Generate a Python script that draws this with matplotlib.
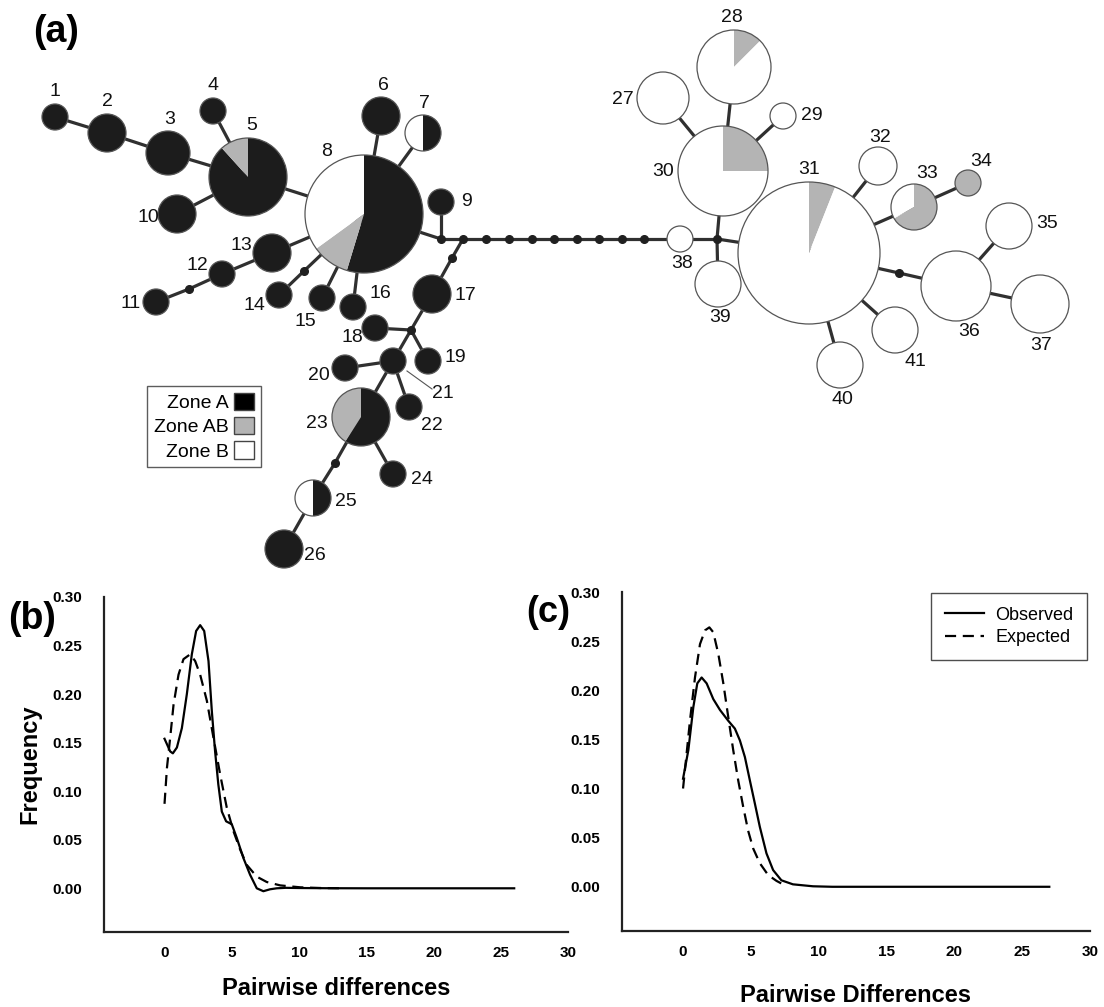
import matplotlib
matplotlib.use('Agg')
import matplotlib.pyplot as plt
from matplotlib.patches import Wedge, Patch

plt.rcParams['font.family'] = ['Liberation Sans', 'DejaVu Sans']

# --- (a) haplotype network -------------------------------------------------
# node layout (figure pixels, y downwards) and circle size per haplotype
hap_x = [55, 107, 168, 213, 248, 381, 423, 364, 441, 177,
         156, 222, 272, 279, 322, 353, 432, 375, 428, 345,
         393, 409, 361, 393, 313, 284, 663, 734, 783, 723,
         809, 878, 914, 968, 1009, 956, 1040, 680, 718, 840, 895]
hap_y = [117, 133, 153, 111, 177, 116, 133, 214, 202, 214,
         302, 274, 253, 295, 298, 307, 294, 328, 361, 368,
         361, 407, 417, 474, 498, 549, 98, 67, 116, 171,
         253, 166, 207, 183, 226, 286, 304, 239, 284, 365, 330]
hap_r = [13, 19, 22, 13, 39, 19, 18, 59, 13, 19,
         13, 13, 19, 13, 13, 13, 19, 13, 13, 13,
         13, 13, 29, 13, 18, 19, 26, 37, 13, 45,
         71, 19, 23, 13, 23, 35, 29, 13, 23, 23, 23]

# share of each haplotype found in zone A / AB / B
zone_a = [1, 1, 1, 1, 0.883, 1, 0.5, 0.547, 1, 1,
          1, 1, 1, 1, 1, 1, 1, 1, 1, 1,
          1, 1, 0.59, 1, 0.5, 1, 0, 0, 0, 0,
          0, 0, 0, 0, 0, 0, 0, 0, 0, 0, 0]
zone_ab = [0, 0, 0, 0, 0.117, 0, 0, 0.103, 0, 0,
           0, 0, 0, 0, 0, 0, 0, 0, 0, 0,
           0, 0, 0.41, 0, 0, 0, 0, 0.125, 0, 0.25,
           0.06, 0, 0.667, 1, 0, 0, 0, 0, 0, 0, 0]
zone_b = [0, 0, 0, 0, 0, 0, 0.5, 0.35, 0, 0,
          0, 0, 0, 0, 0, 0, 0, 0, 0, 0,
          0, 0, 0, 0, 0.5, 0, 1, 0.875, 1, 0.75,
          0.94, 1, 0.333, 0, 1, 1, 1, 1, 1, 1, 1]

lab_x = [55, 107, 170, 213, 252, 383, 424, 327, 466, 148,
         131, 197, 241, 254, 305, 380, 465, 352, 455, 319,
         443, 432, 317, 422, 346, 315, 623, 732, 812, 663,
         809, 880, 927, 981, 1047, 969, 1041, 682, 720, 842, 915]
lab_y = [91, 102, 119, 86, 126, 86, 104, 152, 201, 217,
         303, 266, 245, 305, 321, 294, 295, 338, 357, 376,
         393, 426, 423, 480, 501, 555, 99, 17, 116, 172,
         170, 137, 173, 161, 224, 332, 345, 263, 318, 399, 361]

# median vectors / unsampled intermediate states
mv = {'a': (189, 289), 'b': (304, 271), 'c': (441, 239), 'd': (463, 239),
      'e': (452, 258), 'f': (411, 330), 'g': (335, 463), 'h': (717, 239),
      'i': (899, 273)}
chain_x = [486, 509, 532, 554, 577, 599, 622, 644]
for k, cx in enumerate(chain_x):
    mv['s%d' % k] = (cx, 239)

links = [(1, 2), (2, 3), (3, 5), (4, 5), (10, 5), (5, 8), (8, 6), (8, 7),
         (8, 13), (13, 12), (12, 'a'), ('a', 11), (8, 'b'), ('b', 14),
         (8, 15), (8, 16), (8, 'c'), ('c', 9), ('c', 'd'), ('d', 'e'),
         ('e', 17), ('d', 's0'), ('s0', 's1'), ('s1', 's2'), ('s2', 's3'),
         ('s3', 's4'), ('s4', 's5'), ('s5', 's6'), ('s6', 's7'), ('s7', 38),
         (38, 'h'), ('h', 30), ('h', 39), ('h', 31), (30, 27), (30, 28),
         (30, 29), (31, 32), (31, 33), (33, 34), (31, 'i'), ('i', 36),
         (36, 35), (36, 37), (31, 40), (31, 41), (17, 'f'), ('f', 18),
         ('f', 19), ('f', 21), (21, 20), (21, 22), (21, 23), (23, 24),
         (23, 'g'), ('g', 25), (25, 26)]

# --- (b)/(c) mismatch distributions ----------------------------------------
obs_b_x = [0, 0.42, 0.62, 0.92, 1.29, 1.66, 2.03, 2.35, 2.65, 2.95, 3.27,
           3.52, 3.76, 4.0, 4.26, 4.58, 5.0, 5.37, 5.87, 6.36, 6.86, 7.35,
           7.85, 8.34, 9, 10, 12, 15, 20, 26]
obs_b_y = [0.154, 0.141, 0.139, 0.145, 0.165, 0.200, 0.241, 0.265, 0.271,
           0.265, 0.234, 0.182, 0.141, 0.107, 0.079, 0.069, 0.066, 0.052,
           0.031, 0.014, 0.000, -0.003, -0.001, 0.000, 0.0005, 0.0003,
           0.0001, 0, 0, 0]
exp_b_x = [0, 0.18, 0.42, 0.67, 1.04, 1.41, 1.91, 2.28, 2.65, 3.15, 3.64,
           4.14, 4.63, 5.12, 5.62, 6.12, 6.86, 7.6, 8.6, 10.1, 11.6, 13.3]
exp_b_y = [0.087, 0.124, 0.155, 0.189, 0.220, 0.236, 0.241, 0.234, 0.220,
           0.193, 0.155, 0.117, 0.083, 0.059, 0.040, 0.024, 0.012, 0.0065,
           0.003, 0.001, 0.0003, 0]

obs_c_x = [0, 0.39, 0.76, 1.05, 1.37, 1.74, 2.23, 2.72, 3.33, 3.82, 4.19,
           4.56, 4.93, 5.29, 5.66, 6.15, 6.64, 7.25, 8.1, 9.58, 11, 15, 20, 27]
obs_c_y = [0.110, 0.139, 0.183, 0.207, 0.213, 0.207, 0.191, 0.180, 0.169,
           0.161, 0.149, 0.132, 0.108, 0.085, 0.061, 0.034, 0.017, 0.0066,
           0.0025, 0.0005, 0, 0, 0, 0]
exp_c_x = [0, 0.51, 0.88, 1.25, 1.62, 1.94, 2.23, 2.6, 2.97, 3.33, 3.7,
           4.07, 4.44, 4.8, 5.17, 5.66, 6.27, 6.89, 7.5]
exp_c_y = [0.100, 0.169, 0.213, 0.247, 0.261, 0.264, 0.259, 0.237, 0.207,
           0.173, 0.139, 0.108, 0.081, 0.057, 0.039, 0.024, 0.012, 0.006,
           0.0015]

W, H = 1104, 1007
fig = plt.figure(figsize=(W / 100, H / 100), dpi=100)

net = fig.add_axes([0, 0, 1, 1])
net.set_xlim(0, W)
net.set_ylim(H, 0)
net.axis('off')

BLACK, GREY, WHITE = '#1c1c1c', '#b4b4b4', 'white'


def node_xy(n):
    if isinstance(n, int):
        return hap_x[n - 1], hap_y[n - 1]
    return mv[n]


for u, v in links:
    x0, y0 = node_xy(u)
    x1, y1 = node_xy(v)
    net.plot([x0, x1], [y0, y1], color='#303030', lw=2.3, zorder=1,
             solid_capstyle='butt')

for x, y in mv.values():
    net.plot(x, y, 'o', ms=5.5, color='#202020', zorder=2)

# pies: wedges run clockwise from 12 o'clock (y axis is flipped)
for i in range(len(hap_x)):
    x, y, r = hap_x[i], hap_y[i], hap_r[i]
    start = 270.0
    for frac, col in [(zone_a[i], BLACK), (zone_ab[i], GREY), (zone_b[i], WHITE)]:
        if frac <= 0:
            continue
        end = start + 360.0 * frac
        net.add_patch(Wedge((x, y), r, start, end, facecolor=col,
                            edgecolor='none', zorder=3))
        start = end
    circ = plt.Circle((x, y), r, facecolor='none', edgecolor='#555555',
                      lw=0.9, zorder=4)
    net.add_patch(circ)
    net.text(lab_x[i], lab_y[i], str(i + 1), fontsize=14, ha='center',
             va='center', color='#111111', zorder=5)

# pointer for haplotype 21
net.plot([407, 432], [371, 389], color='#555555', lw=0.8, zorder=1)

net.text(56, 32, '(a)', fontsize=27, fontweight='bold', ha='center', va='center')

zone_handles = [Patch(facecolor='black', edgecolor='#444444'),
                Patch(facecolor=GREY, edgecolor='#444444'),
                Patch(facecolor='white', edgecolor='#444444')]
leg = net.legend(zone_handles, ['Zone A', 'Zone AB', 'Zone B'],
                 loc='upper left', bbox_to_anchor=(147 / W, 1 - 386 / H),
                 bbox_transform=fig.transFigure, markerfirst=False,
                 fontsize=14, frameon=True, fancybox=False, borderaxespad=0,
                 handlelength=1.0, handleheight=1.0, handletextpad=0.3,
                 labelspacing=0.25, borderpad=0.35)
leg.get_frame().set_edgecolor('#333333')
leg.get_frame().set_linewidth(1.0)


def mismatch_axes(left, right, top, bottom):
    ax = fig.add_axes([left / W, 1 - bottom / H, (right - left) / W,
                       (bottom - top) / H])
    ax.set_facecolor('none')
    ax.set_xlim(-4.5, 30)
    ax.set_ylim(-0.045, 0.30)
    ax.set_xticks([0, 5, 10, 15, 20, 25, 30])
    ax.set_yticks([0, 0.05, 0.10, 0.15, 0.20, 0.25, 0.30])
    ax.set_yticklabels(['%.2f' % t for t in ax.get_yticks()])
    ax.tick_params(length=0, labelsize=11)
    ax.tick_params(axis='x', pad=10)
    ax.tick_params(axis='y', pad=16)
    for lab in ax.get_xticklabels() + ax.get_yticklabels():
        lab.set_fontweight('bold')
    for s in ['top', 'right']:
        ax.spines[s].set_visible(False)
    for s in ['left', 'bottom']:
        ax.spines[s].set_linewidth(1.6)
        ax.spines[s].set_color('#222222')
    return ax


axb = mismatch_axes(104, 568, 597, 932)
axb.plot(obs_b_x, obs_b_y, color='black', lw=1.6)
axb.plot(exp_b_x, exp_b_y, color='black', lw=1.6, dashes=[5, 3])
axb.set_ylabel('Frequency', fontsize=17, fontweight='bold', labelpad=8)
axb.set_xlabel('Pairwise differences', fontsize=17, fontweight='bold',
               labelpad=12)

axc = mismatch_axes(622, 1090, 592, 931)
axc.plot(obs_c_x, obs_c_y, color='black', lw=1.6, label='Observed')
axc.plot(exp_c_x, exp_c_y, color='black', lw=1.6, dashes=[5, 3],
         label='Expected')
axc.set_xlabel('Pairwise Differences', fontsize=17, fontweight='bold',
               labelpad=18)
lc = axc.legend(loc='upper right', bbox_to_anchor=(1087 / W, 1 - 593 / H),
                bbox_transform=fig.transFigure, fontsize=13, fancybox=False,
                borderaxespad=0, handlelength=2.2, handletextpad=0.6,
                borderpad=0.75, labelspacing=0.3)
lc.get_frame().set_edgecolor('#222222')
lc.get_frame().set_linewidth(1.0)

fig.text(32 / W, 1 - 619 / H, '(b)', fontsize=27, fontweight='bold',
         ha='center', va='center')
fig.text(548 / W, 1 - 612 / H, '(c)', fontsize=26, fontweight='bold',
         ha='center', va='center')

fig.savefig('out.png', dpi=100)
